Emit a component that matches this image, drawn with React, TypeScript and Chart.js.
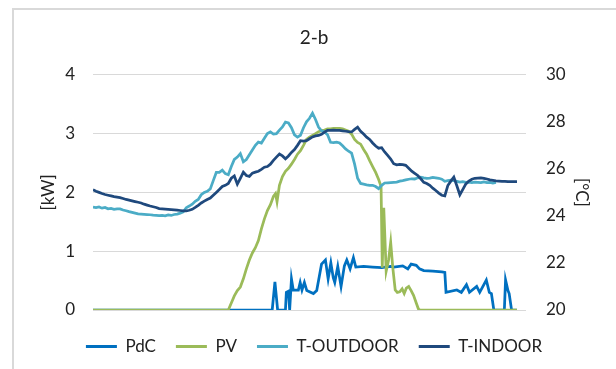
import { useEffect, useRef } from "react";
import { Chart, registerables } from "chart.js";

Chart.register(...registerables);

// Time of day in minutes; temperatures sampled every 10 minutes
const STEP_MIN = 10;
const DAY_MIN = 1440;

const T_INDOOR = [
  25.11, 25.05, 25.0, 24.95, 24.91, 24.88, 24.85, 24.82, 24.8, 24.78,
  24.74, 24.7, 24.67, 24.64, 24.61, 24.58, 24.55, 24.5, 24.46, 24.42,
  24.39, 24.36, 24.31, 24.3, 24.29, 24.28, 24.27, 24.26, 24.25, 24.23,
  24.21, 24.21, 24.24, 24.28, 24.36, 24.45, 24.55, 24.63, 24.7, 24.76,
  24.88, 25.0, 25.12, 25.25, 25.3, 25.38, 25.6, 25.7, 25.35, 25.6,
  25.86, 25.72, 25.68, 25.82, 25.86, 25.9, 25.98, 26.07, 26.1, 26.2,
  26.36, 26.5, 26.63, 26.55, 26.43, 26.55, 26.7, 26.82, 27.0, 27.2,
  27.18, 27.2, 27.28, 27.36, 27.4, 27.42, 27.47, 27.56, 27.64, 27.64,
  27.65, 27.64, 27.64, 27.62, 27.6, 27.58, 27.57, 27.68, 27.77, 27.6,
  27.48, 27.35, 27.25, 27.1, 26.97, 26.88, 26.9, 26.72, 26.57, 26.42,
  26.22, 26.17, 26.19, 26.18, 26.15, 26.03, 25.9, 25.81, 25.72, 25.58,
  25.43, 25.38, 25.3, 25.18, 25.08, 24.97, 24.88, 24.85, 25.29, 25.48,
  25.65, 25.28, 24.9, 25.13, 25.36, 25.48, 25.56, 25.6, 25.61, 25.62,
  25.6, 25.57, 25.53, 25.51, 25.49, 25.48, 25.47, 25.47, 25.46, 25.46,
  25.46, 25.46,
];

const T_OUTDOOR = [
  24.37, 24.35, 24.38, 24.33, 24.36, 24.3, 24.32, 24.28, 24.3, 24.3,
  24.25, 24.22, 24.18, 24.15, 24.12, 24.09, 24.08, 24.07, 24.06, 24.05,
  24.03, 24.02, 24.01, 24.02, 24.0, 24.04, 24.02, 24.06, 24.08, 24.12,
  24.17, 24.35, 24.42, 24.5, 24.62, 24.7, 24.9, 25.0, 25.05, 25.15,
  25.5, 25.85, 25.85, 25.95, 25.8, 25.75, 26.1, 26.4, 26.5, 26.65,
  26.3, 26.4, 26.6, 26.8, 27.0, 27.14, 27.1, 27.3, 27.5, 27.57,
  27.48, 27.5, 27.65, 27.78, 27.99, 27.95, 27.75, 27.45, 27.35, 27.43,
  27.75, 28.0, 28.15, 28.37, 28.1, 27.78, 27.62, 27.57, 27.45, 27.13,
  27.12, 27.14, 27.1, 26.98, 26.85, 26.75, 26.67, 26.2, 25.6, 25.38,
  25.35, 25.32, 25.3, 25.3, 25.25, 25.16, 25.3, 25.4, 25.41, 25.42,
  25.43, 25.44, 25.48, 25.5, 25.53, 25.56, 25.58, 25.57, 25.62, 25.65,
  25.62, 25.6, 25.61, 25.64, 25.62, 25.6, 25.56, 25.47, 25.5, 25.52,
  25.5, 25.47, 25.44, 25.46, 25.43, 25.44, 25.42, 25.44, 25.43, 25.42,
  25.45, 25.42, 25.43, 25.4, 25.43,
];

// PV production [kW] at the given minutes of the day
const PV_MIN = [
  0, 450, 460, 470, 480, 490, 500, 510, 520, 530, 540, 550, 560, 570, 580, 590,
  600, 607, 612, 620, 630, 640, 650, 660, 670, 680, 690, 700, 710, 720, 730, 740,
  750, 760, 770, 780, 790, 800, 810, 820, 830, 840, 850, 860, 870, 880, 890, 900,
  910, 920, 930, 940, 950, 958, 962, 967, 975, 983, 990, 997, 1005, 1012, 1020,
  1028, 1035, 1042, 1050, 1058, 1066, 1075, 1082, 1087, 1410,
];
const PV_KW = [
  0, 0, 0.12, 0.24, 0.33, 0.39, 0.53, 0.7, 0.85, 0.97, 1.06, 1.18, 1.38, 1.55, 1.69, 1.79,
  1.93, 1.98, 1.84, 2.12, 2.27, 2.36, 2.41, 2.48, 2.56, 2.65, 2.71, 2.8, 2.9, 2.94, 2.97, 3.0,
  3.03, 3.05, 3.06, 3.08, 3.08, 3.09, 3.09, 3.09, 3.08, 3.06, 3.04, 2.99, 2.9, 2.85, 2.82, 2.73,
  2.65, 2.54, 2.44, 2.34, 2.22, 2.1, 0.72, 1.74, 0.66, 0.85, 1.15, 0.72, 0.34, 0.3, 0.31,
  0.36, 0.28, 0.37, 0.4, 0.33, 0.25, 0.12, 0.02, 0, 0,
];

// Heat pump (PdC) power [kW] at the given minutes of the day
const PDC_MIN = [
  0, 596, 605, 614, 640, 643, 650, 654, 660, 666, 683, 689, 695, 703, 711, 733,
  744, 760, 773, 782, 791, 799, 804, 814, 825, 836, 844, 855, 866, 874, 900, 930,
  960, 990, 1000, 1030, 1047, 1058, 1075, 1086, 1100, 1130, 1160, 1170, 1174, 1210,
  1225, 1242, 1252, 1276, 1286, 1308, 1318, 1325, 1333, 1368, 1372, 1380, 1384, 1392, 1410,
];
const PDC_KW = [
  0, 0, 0.48, 0, 0, 0.3, 0.32, 0, 0.53, 0.34, 0.34, 0.47, 0.34, 0.47, 0.33, 0.28,
  0.33, 0.78, 0.85, 0.53, 0.8, 0.55, 0.47, 0.74, 0.4, 0.75, 0.85, 0.7, 0.89, 0.73, 0.74, 0.73,
  0.72, 0.74, 0.73, 0.75, 0.7, 0.78, 0.76, 0.7, 0.67, 0.66, 0.65, 0.64, 0.3, 0.34,
  0.3, 0.43, 0.3, 0.4, 0.3, 0.51, 0.3, 0.28, 0, 0, 0.51, 0.33, 0.28, 0, 0,
];

const SERIES_NAMES = ["PdC", "PV", "T-OUTDOOR", "T-INDOOR"];
const SERIES_COLORS = ["#0070C0", "#9BBB59", "#4BACC6", "#1F497D"];
const TITLE = "2-b";
const LEFT_TITLE = "[kW]";
const RIGHT_TITLE = "[°C]";

const TEXT = "#222222";
const FONT = "Lato, 'Open Sans', sans-serif";

export default function App() {
  const ref = useRef<HTMLCanvasElement>(null);

  useEffect(() => {
    const canvas = ref.current;
    if (!canvas) return;
    Chart.defaults.font.family = FONT;

    const chart = new Chart(canvas, {
      type: "line",
      data: {
        datasets: [
          {
            label: SERIES_NAMES[0],
            data: PDC_MIN.map((m, i) => ({ x: m, y: PDC_KW[i] })),
            borderColor: SERIES_COLORS[0],
            backgroundColor: SERIES_COLORS[0],
            yAxisID: "y",
            order: 3,
          },
          {
            label: SERIES_NAMES[1],
            data: PV_MIN.map((m, i) => ({ x: m, y: PV_KW[i] })),
            borderColor: SERIES_COLORS[1],
            backgroundColor: SERIES_COLORS[1],
            yAxisID: "y",
            order: 2,
          },
          {
            label: SERIES_NAMES[2],
            data: T_OUTDOOR.map((v, i) => ({ x: i * STEP_MIN, y: v })),
            borderColor: SERIES_COLORS[2],
            backgroundColor: SERIES_COLORS[2],
            yAxisID: "y1",
            order: 1,
          },
          {
            label: SERIES_NAMES[3],
            data: T_INDOOR.map((v, i) => ({ x: i * STEP_MIN, y: v })),
            borderColor: SERIES_COLORS[3],
            backgroundColor: SERIES_COLORS[3],
            yAxisID: "y1",
            order: 0,
          },
        ],
      },
      options: {
        responsive: false,
        maintainAspectRatio: false,
        devicePixelRatio: 1,
        animation: false,
        events: [],
        layout: { padding: { left: 12, right: 0, top: 0, bottom: 4 } },
        elements: {
          line: { borderWidth: 2.75, tension: 0 },
          point: { radius: 0, hoverRadius: 0 },
        },
        scales: {
          x: {
            type: "linear",
            min: 0,
            max: DAY_MIN,
            grid: { display: false },
            border: { display: false },
            ticks: { display: false },
            afterFit: (s: any) => {
              s.height = 8;
            },
          },
          y: {
            position: "left",
            min: 0,
            max: 4,
            ticks: { stepSize: 1, padding: 18, color: TEXT, font: { size: 17 } },
            grid: { color: "#d9d9d9", lineWidth: 1, drawTicks: false },
            border: { display: false },
            title: {
              display: true,
              text: LEFT_TITLE,
              color: TEXT,
              font: { size: 17 },
              padding: { top: 26, bottom: 0 },
            },
            afterFit: (s: any) => {
              s.width = 81;
            },
          },
          y1: {
            position: "right",
            min: 20,
            max: 30,
            ticks: { stepSize: 2, padding: 20, color: TEXT, font: { size: 17 } },
            grid: { display: false, drawTicks: false },
            border: { display: false },
            title: {
              display: true,
              text: RIGHT_TITLE,
              color: TEXT,
              font: { size: 17 },
              padding: { top: 24, bottom: 0 },
            },
            afterFit: (s: any) => {
              s.width = 90;
            },
          },
        },
        plugins: {
          tooltip: { enabled: false },
          title: {
            display: true,
            text: TITLE,
            color: TEXT,
            font: { size: 19, weight: "normal" },
            padding: { top: 26, bottom: 26 },
          },
          legend: {
            display: true,
            position: "bottom",
            labels: {
              boxWidth: 31,
              boxHeight: 3,
              padding: 20,
              color: TEXT,
              font: { size: 17 },
              generateLabels: (c: any) =>
                c.data.datasets.map((ds: any, i: number) => ({
                  text: ds.label,
                  fillStyle: ds.borderColor,
                  strokeStyle: ds.borderColor,
                  lineWidth: 0,
                  hidden: false,
                  datasetIndex: i,
                  fontColor: TEXT,
                })),
            },
          },
        },
      },
    });
    return () => chart.destroy();
  }, []);

  return (
    <div
      style={{
        position: "fixed",
        left: 0,
        top: 0,
        width: 616,
        height: 369,
        background: "#ffffff",
        overflow: "hidden",
      }}
    >
      <div
        style={{
          position: "absolute",
          left: 12,
          top: 8,
          width: 700,
          height: 500,
          border: "2px solid #d9d9d9",
          boxSizing: "border-box",
        }}
      />
      <canvas
        ref={ref}
        width={616}
        height={369}
        style={{ position: "absolute", left: 0, top: 0, width: 616, height: 369 }}
      />
    </div>
  );
}
